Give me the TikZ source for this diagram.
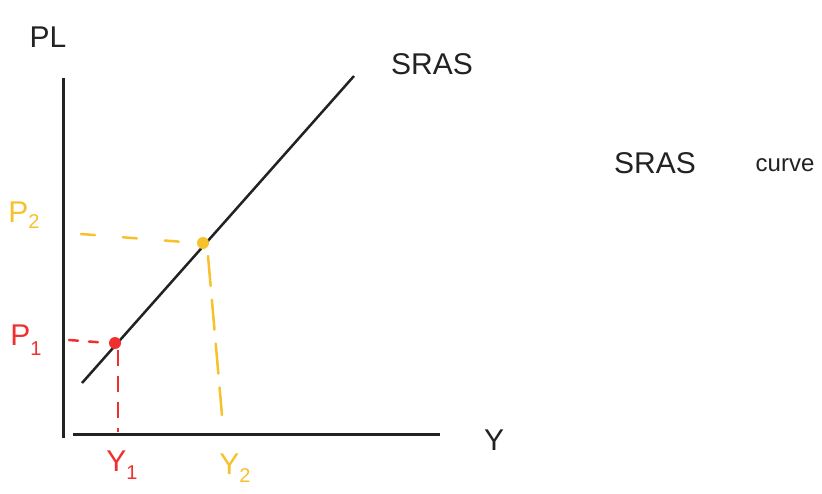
\documentclass[tikz,border=0pt]{standalone}
\usepackage{fontspec}
\setmainfont{Liberation Sans}
\definecolor{hy}{HTML}{F7C12C}
\definecolor{hr}{HTML}{F0302E}
\definecolor{ink}{HTML}{222222}
\tikzset{
  axis/.style={ink, line width=3pt},
  curveline/.style={ink, line width=2.5pt},
  ydash/.style={hy, line width=2.5pt, dash pattern=on 14pt off 28pt, line cap=round},
  rdash/.style={hr, line width=2.5pt, dash pattern=on 9pt off 11pt, line cap=round},
  lbl/.style={inner sep=0pt, font=\fontsize{30}{36}\selectfont},
  small/.style={inner sep=0pt, font=\fontsize{24}{28}\selectfont},
}
\begin{document}
\begin{tikzpicture}[x=1pt,y=-1pt]
\useasboundingbox[fill=white] (0,0) rectangle (822,493);
% axes
\coordinate (ytop) at (63,78);
\coordinate (origin) at (63,438);
\coordinate (xl) at (73,434);
\coordinate (xr) at (440,434);
\draw[axis] (ytop) -- (origin);
\draw[axis] (xl) -- (xr);
% SRAS
\coordinate (s0) at (82,383);
\coordinate (s1) at (354,76);
\draw[curveline] (s0) -- (s1);
% points
\node[circle, fill=hr, minimum size=12pt, inner sep=0pt] (e1) at (115,343) {};
\node[circle, fill=hy, minimum size=12pt, inner sep=0pt] (e2) at (203,243) {};
% red dashes
\coordinate (r1) at (69,340);
\coordinate (r2) at (118,350);
\coordinate (r3) at (118,432);
\draw[rdash] (r1) -- (e1.west);
\draw[hr, line width=2.5pt, dash pattern=on 16pt off 10pt] (r2) -- (r3);
% yellow dashes
\coordinate (y1) at (81,234);
\draw[ydash] (y1) -- (e2.west);
\coordinate (y2a) at (208,256);
\coordinate (y2b) at (222,415);
\draw[hy, line width=2.5pt, dash pattern=on 30pt off 14pt, line cap=round] (y2a) -- (y2b);
% labels
\node[lbl, ink] (pl) at (48,37) {PL};
\node[lbl, ink] (sras) at (432,64) {SRAS};
\node[lbl, ink] (title) at (655,163) {SRAS};
\node[small, ink] (curve) at (785,165) {curve};
\node[lbl, hy] (p2) at (24,215) {P\raisebox{-6pt}{\fontsize{20}{24}\selectfont 2}};
\node[lbl, hr] (p1) at (26,340) {P\raisebox{-10pt}{\fontsize{20}{24}\selectfont 1}};
\node[lbl, hr] (ylab1) at (122,465) {Y\raisebox{-8pt}{\fontsize{20}{24}\selectfont 1}};
\node[lbl, hy] (ylab2) at (235,468) {Y\raisebox{-8pt}{\fontsize{20}{24}\selectfont 2}};
\node[lbl, ink] (ylab) at (494,440) {Y};
\end{tikzpicture}
\end{document}
